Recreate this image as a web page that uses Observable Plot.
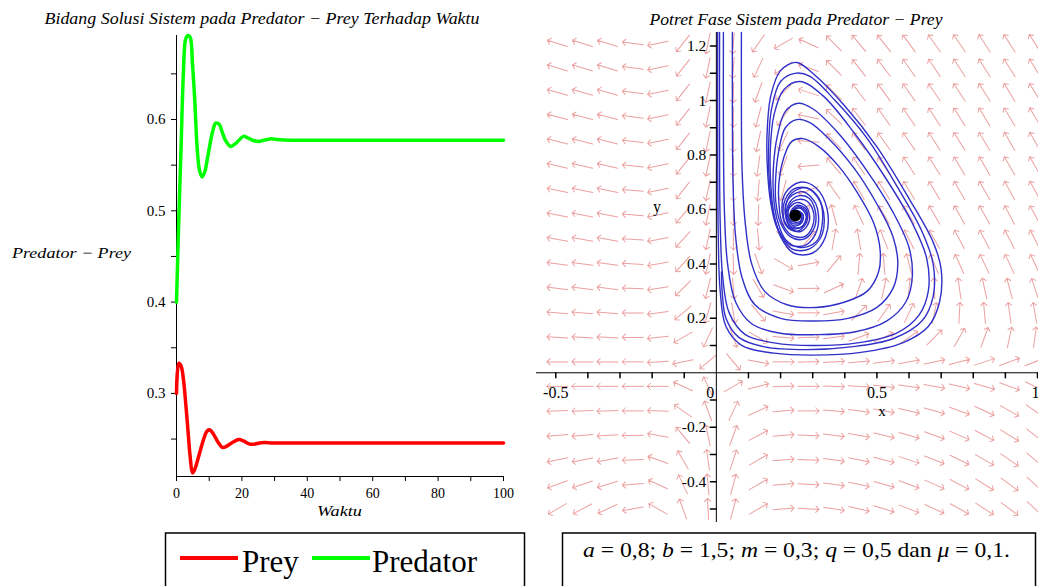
<!DOCTYPE html>
<html><head><meta charset="utf-8">
<script src="https://cdn.jsdelivr.net/npm/d3@7"></script>
<script src="https://cdn.jsdelivr.net/npm/@observablehq/plot@0.6"></script>
<style>
html,body{margin:0;padding:0;background:#fff;}
#wrap{position:relative;width:1038px;height:586px;overflow:hidden;background:#fff;}
#left,#right{position:absolute;top:0;}
#left{left:0;} #right{left:520px;}
#overlay{position:absolute;left:0;top:0;pointer-events:none;}
#overlay text{font-family:'Liberation Serif','Times New Roman',serif;fill:#000;}
</style></head><body>
<div id="wrap">
<div id="left"></div><div id="right"></div>
<svg id="overlay" width="1038" height="586">
  <text x="262" y="24" text-anchor="middle" font-style="italic" font-size="17" textLength="435" lengthAdjust="spacingAndGlyphs">Bidang Solusi Sistem pada Predator − Prey Terhadap Waktu</text>
  <text x="796" y="25" text-anchor="middle" font-style="italic" font-size="17" textLength="293" lengthAdjust="spacingAndGlyphs">Potret Fase Sistem pada Predator − Prey</text>
  <text x="12" y="258" font-style="italic" font-size="15" textLength="119" lengthAdjust="spacingAndGlyphs">Predator − Prey</text>
  <text x="317" y="516" font-style="italic" font-size="15" textLength="45" lengthAdjust="spacingAndGlyphs">Waktu</text>
  <text x="882" y="416" text-anchor="middle" font-size="15">x</text>
  <text x="657" y="212" text-anchor="middle" font-size="16">y</text>
  <rect x="165.5" y="533" width="359" height="70" fill="none" stroke="#000" stroke-width="1.5"/>
  <line x1="180" x2="238" y1="558" y2="558" stroke="#ff0000" stroke-width="4"/>
  <text x="242" y="572" font-size="31">Prey</text>
  <line x1="312" x2="370" y1="558" y2="558" stroke="#00ff00" stroke-width="4"/>
  <text x="372" y="572" font-size="31">Predator</text>
  <rect x="562.5" y="533" width="473" height="70" fill="none" stroke="#000" stroke-width="1.5"/>
  <text x="583" y="557" font-size="21" textLength="427" lengthAdjust="spacingAndGlyphs"><tspan font-style="italic">a</tspan> = 0,8;  <tspan font-style="italic">b</tspan> = 1,5;  <tspan font-style="italic">m</tspan> = 0,3;  <tspan font-style="italic">q</tspan> = 0,5 dan <tspan font-style="italic">μ</tspan> = 0,1.</text>
</svg>
</div>
<script>
// ---------- time series (left panel) ----------
const times    = [0, 0.7, 1.4, 2.1, 2.8, 3.5, 4.2, 4.9, 5.6, 6.3, 7.0, 7.8, 8.6, 9.4, 10.2, 11.0, 12.0, 13.0, 14.0, 15.0, 16.5, 18.0, 19.0, 20.5, 22.0, 23.5, 25.0, 27.0, 29.0, 31.0, 35, 40, 50, 60, 70, 80, 90, 100];
const prey     = [0.300, 0.333, 0.330, 0.316, 0.290, 0.260, 0.230, 0.213, 0.217, 0.225, 0.234, 0.244, 0.253, 0.259, 0.260, 0.257, 0.251, 0.245, 0.241, 0.2415, 0.245, 0.248, 0.2495, 0.248, 0.245, 0.2442, 0.2455, 0.2462, 0.2458, 0.2456, 0.2456, 0.2456, 0.2456, 0.2456, 0.2456, 0.2456, 0.2456, 0.2456];
const predator = [0.400, 0.490, 0.570, 0.650, 0.688, 0.692, 0.690, 0.660, 0.620, 0.570, 0.545, 0.537, 0.542, 0.556, 0.572, 0.586, 0.596, 0.595, 0.586, 0.577, 0.5705, 0.5735, 0.577, 0.5815, 0.5795, 0.577, 0.576, 0.5775, 0.5788, 0.578, 0.5773, 0.5773, 0.5773, 0.5773, 0.5773, 0.5773, 0.5773, 0.5773];
const timeTicks = [0, 20, 40, 60, 80, 100];
const timeMinorTicks = [10, 30, 50, 70, 90];
const valueTicks = [0.3, 0.4, 0.5, 0.6];
const valueMinorTicks = [0.25, 0.35, 0.45, 0.55, 0.65];
const valueDomain = [0.209, 0.692];

// ---------- phase portrait (right panel) ----------
const fieldX = [-0.495, -0.417, -0.339, -0.26, -0.182, -0.104, -0.026, 0.053, 0.131, 0.209, 0.287, 0.366, 0.444, 0.522, 0.6, 0.679, 0.757, 0.835, 0.913, 0.992];
const fieldY = [1.21, 1.12, 1.03, 0.94, 0.85, 0.76, 0.67, 0.58, 0.49, 0.40, 0.31, 0.22, 0.13, 0.04, -0.05, -0.14, -0.23, -0.32, -0.41, -0.50];
// arrow direction, degrees clockwise from "up" (row = fieldY, column = fieldX)
const fieldAngles = [
  [287,287,287,278,258,218,192,185,215,240,295,315,320,322,324,325,326,327,328,328],
  [287,287,287,278,258,218,192,185,205,235,290,315,322,323,325,326,327,328,328,329],
  [286,286,286,277,258,218,192,182,200,225,288,315,323,324,325,326,327,328,329,329],
  [285,285,285,277,258,218,192,180,195,215,282,314,323,325,326,327,328,329,329,330],
  [284,284,284,276,258,218,192,180,192,205,275,316,324,325,326,327,328,329,330,330],
  [283,283,283,276,258,218,192,180,188,200,265,320,326,326,327,328,329,330,330,330],
  [282,282,282,275,258,218,192,180,185,195,250,325,330,328,328,329,330,330,331,331],
  [281,281,281,275,258,220,192,180,182,182,5,345,335,330,329,330,331,331,332,332],
  [280,280,280,274,259,222,192,180,175,140,40,10,350,338,333,331,332,332,333,333],
  [278,278,278,273,260,222,193,178,160,120,80,40,5,355,345,338,336,335,335,335],
  [277,277,277,272,261,225,194,175,150,110,90,65,20,12,5,358,352,348,345,342],
  [275,275,275,271,262,230,196,170,140,100,90,80,45,35,25,12,3,355,352,350],
  [273,273,273,271,264,240,205,160,120,95,88,82,70,65,55,45,30,20,12,8],
  [271,271,271,270,266,258,230,140,100,90,88,86,85,83,80,78,75,72,70,68],
  [270,270,270,270,270,295,335,60,75,88,90,92,94,96,98,100,103,106,110,115],
  [268,268,268,270,272,305,340,25,65,85,90,95,98,100,103,106,110,115,120,125],
  [265,265,266,270,280,320,348,20,62,85,92,97,100,103,106,110,114,118,122,128],
  [258,259,260,268,290,330,352,18,60,85,92,98,102,105,108,112,116,120,125,130],
  [250,251,253,265,295,335,355,15,60,85,93,98,102,106,110,114,118,122,126,132],
  [240,242,245,260,300,340,357,15,60,85,93,99,103,107,111,115,119,123,127,133]
];
const traj1 = [[0.004,1.25],[0.004,0.9],[0.006,0.5],[0.012,0.3],[0.03,0.17],[0.08,0.1],[0.18,0.072],[0.3,0.065],[0.45,0.075],[0.58,0.11],[0.66,0.17],[0.695,0.26],[0.70,0.38],[0.675,0.48],[0.6,0.64],[0.5,0.83],[0.4,0.98],[0.3,1.1],[0.25,1.14],[0.2,1.11],[0.17,1.02],[0.158,0.88],[0.16,0.73],[0.17,0.62],[0.19,0.53],[0.23,0.47],[0.28,0.47],[0.315,0.53],[0.31,0.62],[0.27,0.665],[0.225,0.64],[0.215,0.58],[0.235,0.53],[0.27,0.54],[0.28,0.59],[0.255,0.61],[0.235,0.59],[0.245,0.56],[0.26,0.575]];
const traj2 = [[0.01,1.25],[0.01,0.9],[0.012,0.55],[0.02,0.35],[0.04,0.22],[0.09,0.14],[0.18,0.11],[0.3,0.1],[0.44,0.11],[0.56,0.145],[0.63,0.21],[0.66,0.3],[0.655,0.42],[0.61,0.55],[0.53,0.71],[0.43,0.88],[0.33,1.02],[0.26,1.07],[0.21,1.04],[0.18,0.95],[0.168,0.82],[0.17,0.68],[0.18,0.58],[0.2,0.5],[0.24,0.44],[0.3,0.44],[0.34,0.5],[0.345,0.6],[0.31,0.68],[0.26,0.7],[0.215,0.66],[0.205,0.59],[0.225,0.53],[0.265,0.52],[0.29,0.56],[0.28,0.61],[0.25,0.625],[0.225,0.6],[0.23,0.56],[0.26,0.555],[0.265,0.58],[0.245,0.585]];
const traj3 = [[0.022,1.25],[0.022,0.9],[0.025,0.6],[0.035,0.4],[0.06,0.26],[0.11,0.18],[0.2,0.145],[0.31,0.14],[0.43,0.15],[0.53,0.19],[0.59,0.26],[0.61,0.35],[0.6,0.46],[0.55,0.59],[0.47,0.74],[0.38,0.88],[0.3,0.97],[0.255,0.99],[0.215,0.96],[0.19,0.87],[0.178,0.76],[0.178,0.65],[0.19,0.56],[0.215,0.49],[0.26,0.46],[0.31,0.48],[0.33,0.55],[0.32,0.64],[0.28,0.68],[0.235,0.66],[0.215,0.6],[0.23,0.54],[0.265,0.535],[0.28,0.575],[0.26,0.605],[0.235,0.59],[0.24,0.565],[0.255,0.57]];
const traj4 = [[0.05,1.25],[0.05,0.95],[0.052,0.7],[0.06,0.5],[0.08,0.35],[0.12,0.25],[0.2,0.2],[0.3,0.19],[0.41,0.2],[0.5,0.24],[0.55,0.31],[0.565,0.4],[0.55,0.5],[0.5,0.62],[0.43,0.75],[0.35,0.86],[0.29,0.92],[0.25,0.93],[0.215,0.9],[0.195,0.82],[0.185,0.72],[0.185,0.63],[0.2,0.55],[0.23,0.5],[0.27,0.49],[0.3,0.52],[0.31,0.58],[0.29,0.64],[0.255,0.65],[0.225,0.62],[0.22,0.57],[0.24,0.54],[0.265,0.55],[0.27,0.58],[0.25,0.595],[0.235,0.58],[0.245,0.565]];
const traj5 = [[0.078,1.25],[0.078,1.0],[0.08,0.75],[0.09,0.55],[0.11,0.4],[0.15,0.3],[0.22,0.25],[0.31,0.24],[0.4,0.26],[0.47,0.3],[0.505,0.37],[0.51,0.45],[0.49,0.55],[0.44,0.66],[0.38,0.76],[0.32,0.83],[0.27,0.86],[0.235,0.85],[0.21,0.79],[0.195,0.7],[0.195,0.62],[0.205,0.55],[0.235,0.505],[0.275,0.5],[0.3,0.54],[0.3,0.6],[0.275,0.635],[0.24,0.63],[0.22,0.59],[0.235,0.55],[0.26,0.55],[0.27,0.58],[0.25,0.595],[0.237,0.575],[0.25,0.565]];
const traj6 = [[0.016,0.37],[0.018,0.3],[0.03,0.2],[0.07,0.13],[0.15,0.095],[0.28,0.085],[0.42,0.095],[0.55,0.125],[0.64,0.19],[0.675,0.28],[0.675,0.4],[0.64,0.52],[0.565,0.68],[0.47,0.86],[0.37,1.0],[0.29,1.09],[0.245,1.1],[0.2,1.07],[0.172,0.97],[0.163,0.84],[0.165,0.7],[0.175,0.6],[0.195,0.52],[0.235,0.455],[0.29,0.455],[0.33,0.51],[0.33,0.61],[0.29,0.675],[0.24,0.675],[0.21,0.62],[0.215,0.55],[0.25,0.52],[0.28,0.55],[0.28,0.6],[0.25,0.615],[0.23,0.585],[0.245,0.56],[0.26,0.58]];
const equilibrium = [[0.2456, 0.5773]];
const phaseXTicks = [-0.5,-0.4,-0.3,-0.2,-0.1,0.1,0.2,0.3,0.4,0.5,0.6,0.7,0.8,0.9,1.0];
const phaseXLabels = [-0.5, 0.5];
const phaseXZeroLabel = [0];
const phaseXEndLabel = [1];
const phaseYTicks = [-0.5,-0.4,-0.3,-0.2,-0.1,0.1,0.2,0.3,0.4,0.5,0.6,0.7,0.8,0.9,1.0,1.1,1.2];
const phaseYLabels = [-0.4, -0.2, 0.2, 0.4, 0.6, 0.8, 1, 1.2];

const serif = "'Liberation Serif','Times New Roman',serif";

// ----- left plot -----
const seriesRows = times.flatMap((t, i) => [
  {t, v: prey[i], s: "Prey"},
  {t, v: predator[i], s: "Predator"}
]);
const left = Plot.plot({
  width: 520, height: 530,
  marginLeft: 176, marginRight: 17, marginTop: 35, marginBottom: 54,
  style: {fontFamily: serif, fontSize: "14px", color: "#000", background: "transparent"},
  x: {domain: [0, 100], label: null},
  y: {domain: valueDomain, label: null},
  marks: [
    Plot.axisX({ticks: timeMinorTicks, tickSize: 5, tickFormat: () => "", label: null}),
    Plot.axisX({ticks: timeTicks, tickSize: 5, tickPadding: 7, label: null, fontSize: 14}),
    Plot.axisY({ticks: valueMinorTicks, tickSize: 5, tickFormat: () => "", label: null}),
    Plot.axisY({ticks: valueTicks, tickSize: 5, tickPadding: 6, tickFormat: d3.format(".1f"), label: null, fontSize: 15}),
    Plot.ruleX([0], {stroke: "#000"}),
    Plot.ruleY([valueDomain[0]], {stroke: "#000"}),
    Plot.line(seriesRows, {x: "t", y: "v", z: "s", stroke: d => d.s === "Prey" ? "#ff0000" : "#00ff00", strokeWidth: 3.5, curve: "catmull-rom"})
  ]
});
document.getElementById("left").append(left);

// ----- right plot -----
const field = [];
fieldY.forEach((y, i) => fieldX.forEach((x, j) => field.push({x, y, a: fieldAngles[i][j]})));
const trajRows = [traj1, traj2, traj3, traj4, traj5, traj6].flatMap((tr, k) => tr.map(([x, y]) => ({x, y, k})));
const tickShape = {draw(context, l) { context.moveTo(0, 0); context.lineTo(0, -l); }};

const right = Plot.plot({
  width: 518, height: 530,
  marginLeft: 16, marginRight: 1, marginTop: 32, marginBottom: 8,
  style: {fontFamily: serif, fontSize: "15px", color: "#000", background: "transparent", overflow: "visible"},
  x: {domain: [-0.56, 1.0], axis: null},
  y: {domain: [-0.55, 1.25], axis: null},
  marks: [
    Plot.vector(field, {x: "x", y: "y", rotate: "a", length: 21, anchor: "middle", stroke: "#e06060", strokeOpacity: 0.6, strokeWidth: 1, r: 2.6}),
    Plot.line(trajRows, {x: "x", y: "y", z: "k", stroke: "#3030c8", strokeWidth: 1.4, curve: "catmull-rom"}),
    Plot.ruleX([0], {stroke: "#000"}),
    Plot.ruleY([0], {stroke: "#000"}),
    Plot.vector(phaseXTicks, {x: d => d, y: 0, length: 5, rotate: 180, anchor: "start", shape: tickShape, stroke: "#000"}),
    Plot.vector(phaseYTicks, {x: 0, y: d => d, length: 6, rotate: 270, anchor: "start", shape: tickShape, stroke: "#000"}),
    Plot.text(phaseXLabels, {x: d => d, y: 0, dy: 25, lineAnchor: "bottom", text: d => String(d), fontSize: 16}),
    Plot.text(phaseXZeroLabel, {x: d => d, y: 0, dy: 25, dx: -6, lineAnchor: "bottom", text: d => String(d), fontSize: 16}),
    Plot.text(phaseXEndLabel, {x: d => d, y: 0, dy: 25, dx: -2, lineAnchor: "bottom", text: d => String(d), fontSize: 16}),
    Plot.text(phaseYLabels, {x: 0, y: d => d, dx: -10, textAnchor: "end", text: d => String(d), fontSize: 15.5}),
    Plot.dot(equilibrium, {x: d => d[0], y: d => d[1], r: 6, fill: "#000"})
  ]
});
document.getElementById("right").append(right);
</script>
</body></html>
